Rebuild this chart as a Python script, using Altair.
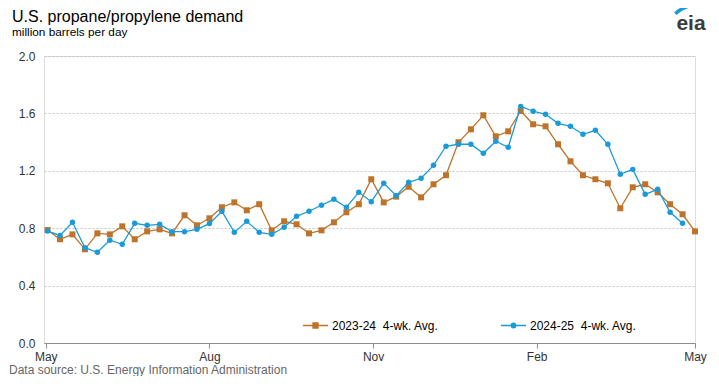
import altair as alt
import pandas as pd

# ---- data ----
start_date = "2024-05-02"
s1_name = "2023-24\u00a0 4-wk. Avg."
s2_name = "2024-25\u00a0 4-wk. Avg."
s1_values = [0.787, 0.723, 0.757, 0.653, 0.764, 0.757, 0.813, 0.723, 0.778, 0.792,
             0.764, 0.890, 0.820, 0.869, 0.946, 0.980, 0.925, 0.967, 0.785, 0.848,
             0.827, 0.764, 0.785, 0.841, 0.911, 0.967, 1.141, 0.980, 1.020, 1.089,
             1.015, 1.106, 1.169, 1.399, 1.489, 1.587, 1.440, 1.475, 1.617, 1.524,
             1.510, 1.385, 1.266, 1.169, 1.141, 1.113, 0.939, 1.085, 1.106, 1.050,
             0.967, 0.897, 0.778]
s2_values = [0.780, 0.750, 0.841, 0.664, 0.632, 0.716, 0.688, 0.834, 0.820, 0.827,
             0.776, 0.776, 0.792, 0.832, 0.918, 0.771, 0.848, 0.771, 0.757, 0.806,
             0.883, 0.918, 0.960, 1.001, 0.946, 1.050, 0.985, 1.113, 1.027, 1.120,
             1.148, 1.238, 1.371, 1.385, 1.385, 1.322, 1.406, 1.364, 1.649, 1.615,
             1.594, 1.531, 1.510, 1.454, 1.482, 1.385, 1.176, 1.210, 1.036, 1.071,
             0.911, 0.834]
y_ticks = [0.0, 0.4, 0.8, 1.2, 1.6, 2.0]
x_tick_dates = [(2024, 5), (2024, 8), (2024, 11), (2025, 2), (2025, 5)]

title_text = "U.S. propane/propylene demand"
subtitle_text = "million barrels per day"
source_text = "Data source: U.S. Energy Information Administration"

ORANGE = "#bd732a"
BLUE = "#1a9bd7"
FONT = "Liberation Sans"

dates1 = pd.date_range(start_date, periods=len(s1_values), freq="7D")
dates2 = pd.date_range(start_date, periods=len(s2_values), freq="7D")
df1 = pd.DataFrame({"date": dates1.strftime("%Y-%m-%d"), "value": s1_values, "series": s1_name})
df2 = pd.DataFrame({"date": dates2.strftime("%Y-%m-%d"), "value": s2_values, "series": s2_name})

W, H = 651, 287

x_enc = alt.X(
    "date:T",
    scale=alt.Scale(type="utc",
                    domain=[alt.DateTime(year=2024, month=4, date=30, utc=True),
                            alt.DateTime(year=2025, month=5, date=1, utc=True)]),
    axis=alt.Axis(
        values=[alt.DateTime(year=y, month=m, date=1, utc=True) for y, m in x_tick_dates],
        format="%b", title=None, grid=False, domain=True, domainColor="#8c8c8c",
        ticks=True, tickColor="#8c8c8c", tickSize=5, labelPadding=3,
        labelFontSize=12, labelColor="#333333", labelFlush=False,
        labelOverlap=False, labelBound=False, labelFont=FONT),
)
y_enc = alt.Y(
    "value:Q",
    scale=alt.Scale(domain=[0, 2], nice=False),
    axis=alt.Axis(values=y_ticks, format=".1f", title=None, grid=True,
                  gridDash=[2, 2], gridColor="#c4c4c4", domain=False, ticks=False,
                  labelPadding=9, labelFontSize=12, labelColor="#333333", labelFont=FONT),
)


def series_layer(df, name, color, shape, path, lx):
    legend = alt.Legend(
        title=None, orient="none", legendX=lx, legendY=256,
        symbolType=path, symbolSize=625, symbolStrokeColor=color,
        symbolFillColor=color, symbolStrokeWidth=1.3, symbolOpacity=1,
        labelFontSize=12, labelColor="#000000", labelFont=FONT, labelOffset=3,
        padding=0,
    )
    col = alt.Color("series:N", scale=alt.Scale(domain=[name], range=[color]), legend=legend)
    base = alt.Chart(df).encode(x=x_enc, y=y_enc, color=col)
    line = base.mark_line(strokeWidth=1.3)
    pts = base.mark_point(shape=shape, filled=True, opacity=1, size=36 if shape == "square" else 30)
    return alt.layer(line, pts)


sq_path = "M-1,0H1M-0.2,-0.2H0.2V0.2H-0.2Z"
ci_path = "M-1,0H1M0.18,0A0.18,0.18 0 1 1 -0.18,0A0.18,0.18 0 1 1 0.18,0Z"

layer1 = series_layer(df1, s1_name, ORANGE, "square", sq_path, 258)
layer2 = series_layer(df2, s2_name, BLUE, "circle", ci_path, 456)

one = pd.DataFrame({"k": [0]})
title = alt.Chart(one).mark_text(
    text=title_text, align="left", baseline="alphabetic", fontSize=16,
    color="#000000", font=FONT
).encode(x=alt.value(-32), y=alt.value(-34))
subtitle = alt.Chart(one).mark_text(
    text=subtitle_text, align="left", baseline="alphabetic", fontSize=11.8,
    color="#000000", font=FONT
).encode(x=alt.value(-32), y=alt.value(-20))
source = alt.Chart(one).mark_text(
    text=source_text, align="left", baseline="alphabetic", fontSize=12,
    color="#666666", font=FONT
).encode(x=alt.value(-35), y=alt.value(318))

logo_text = alt.Chart(one).mark_text(
    text="eia", align="center", baseline="alphabetic", fontSize=21,
    fontWeight="bold", color="#3c3c3c", font=FONT
).encode(x=alt.value(647), y=alt.value(-26))

logo_arc = alt.Chart(one).mark_arc(
    radius=35, radius2=31.5, theta=5.533, theta2=6.553, color=BLUE
).encode(x=alt.value(654), y=alt.value(-18))

chart = alt.layer(layer1, layer2, title, subtitle, source, logo_text, logo_arc).resolve_scale(
    color="independent"
).properties(
    width=W, height=H,
    autosize=alt.AutoSizeParams(type="none"),
    padding={"left": 36, "top": 48, "right": 16, "bottom": 33},
).configure_view(stroke=None).configure(font=FONT)

chart.save("out.html", embed_options={"renderer": "svg", "actions": False})
